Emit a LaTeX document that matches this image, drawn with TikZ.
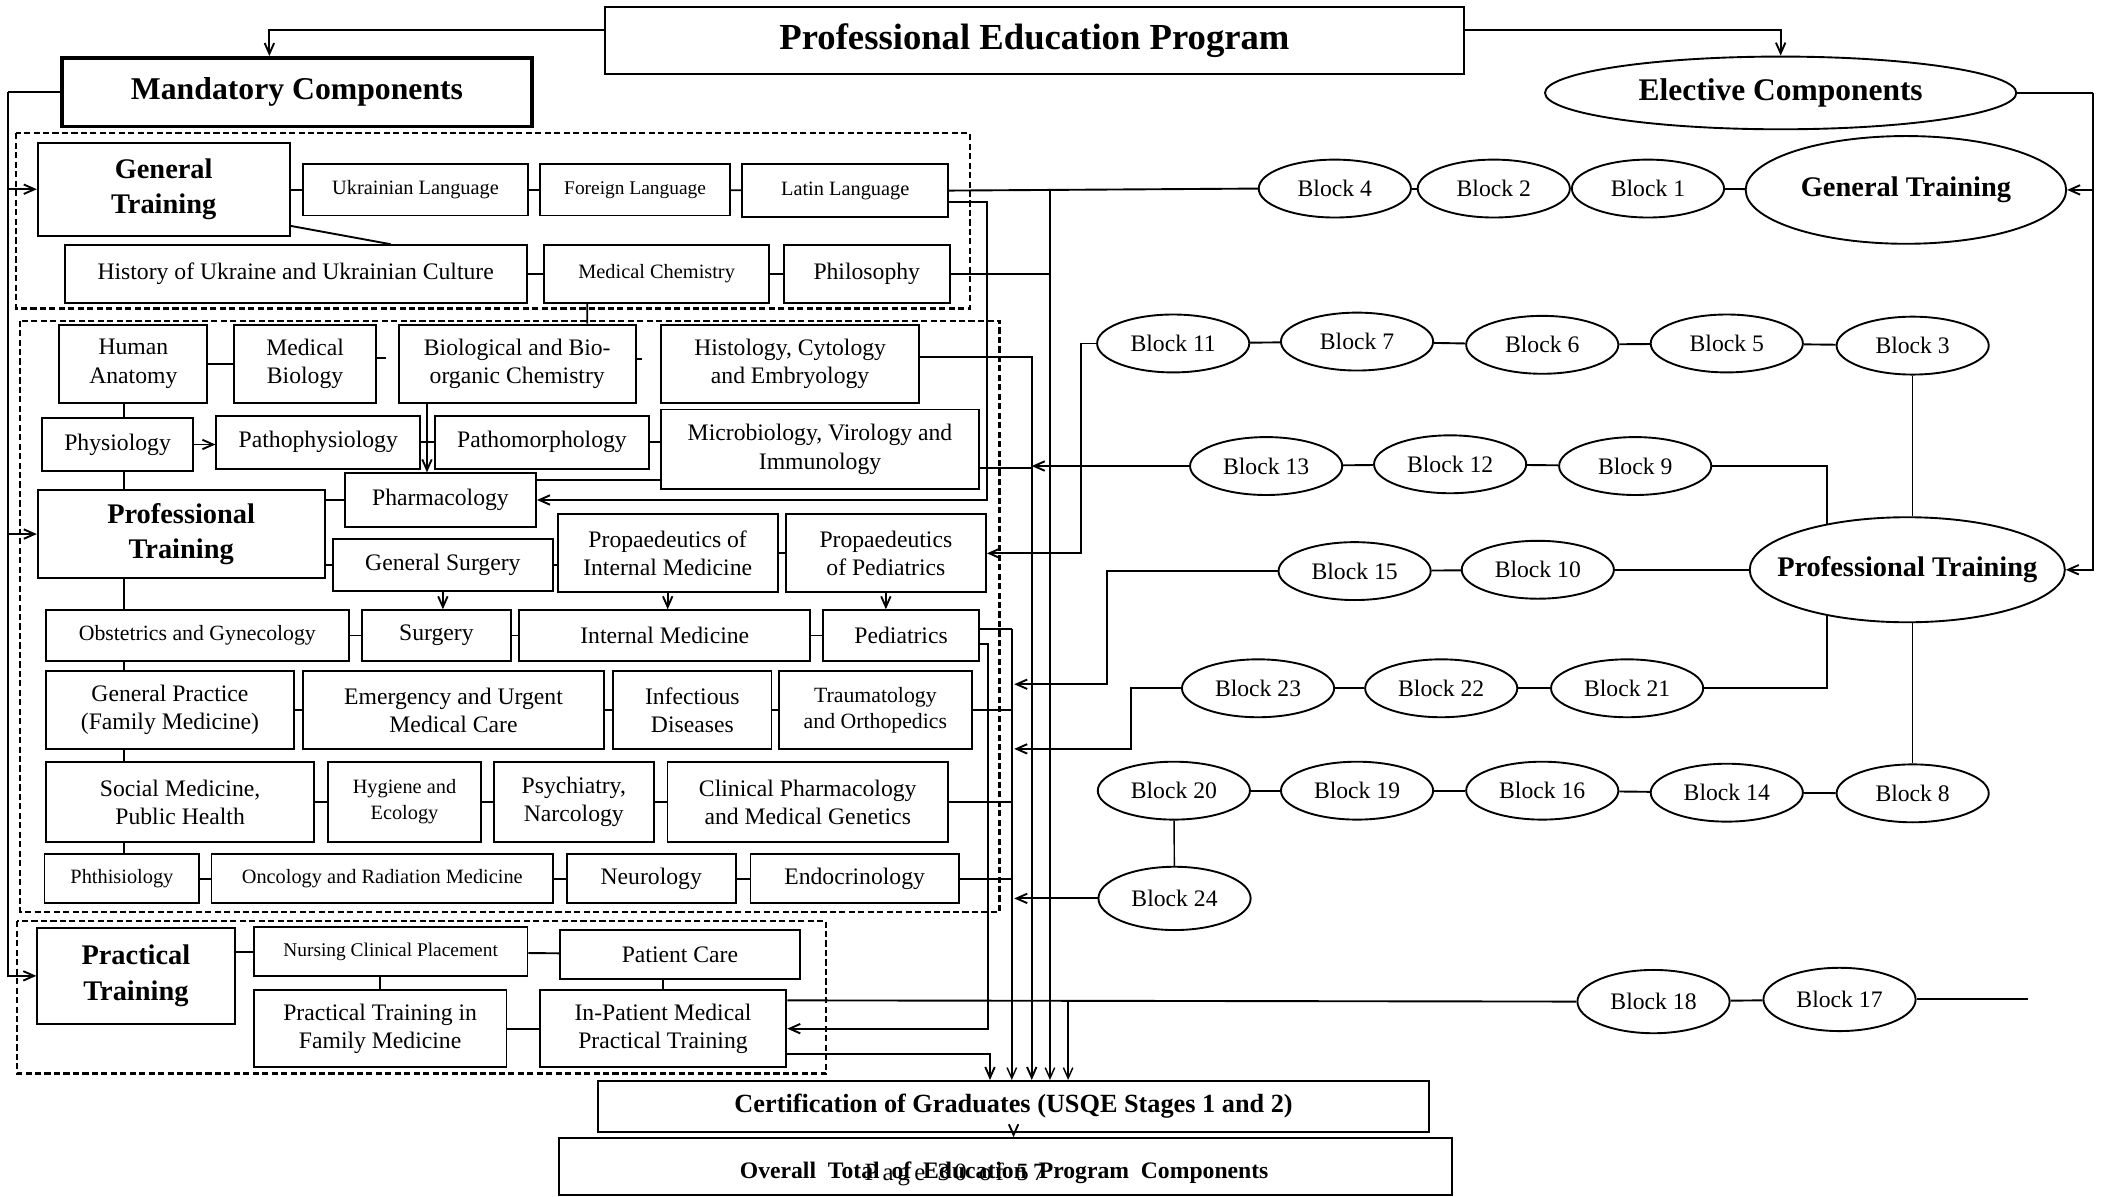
\documentclass[tikz,border=0pt]{standalone}
\usepackage{fontspec}
\setmainfont{Liberation Serif}
\usetikzlibrary{shapes.geometric,arrows.meta}

\tikzset{
  box/.style 2 args={draw, line width=0.8pt, minimum width=#1*0.2mm, minimum height=#2*0.2mm,
    inner sep=1pt, align=center, font=\fontsize{10}{12}\selectfont},
  sbox/.style 2 args={box={#1}{#2}, font=\fontsize{8.6}{11}\selectfont},
  hbox/.style 2 args={box={#1}{#2}, font=\bfseries\fontsize{12}{15}\selectfont},
  blk/.style={draw, ellipse, line width=0.8pt, minimum width=113*0.2mm, minimum height=43*0.2mm,
    inner sep=0pt, font=\fontsize{10}{12}\selectfont},
  bigell/.style 2 args={blk, minimum width=#1*0.2mm, minimum height=#2*0.2mm, font=\bfseries\fontsize{12}{14}\selectfont},
  grp/.style={draw, line width=0.9pt, dash pattern=on 2.6pt off 1.4pt},
  ln/.style={line width=0.8pt},
  bus/.style={line width=0.6pt},
  arr/.style={-{Straight Barb[length=4.5pt,width=4pt]}},
}

\begin{document}
\begin{tikzpicture}[x=0.02cm, y=-0.02cm]
\useasboundingbox (0,0) rectangle (1568,888);

% head of the program
\node[box={638}{50}, font=\bfseries\fontsize{15.5}{18}\selectfont] (pep) at (768,30) {Professional Education Program};
\node[box={349}{51}, line width=1.6pt, font=\bfseries\fontsize{13.4}{16}\selectfont] (mand) at (220.5,68.5) {Mandatory Components};
\node[bigell={350}{54}, font=\bfseries\fontsize{13.3}{16}\selectfont] (elec) at (1322,69) {Elective Components};

% dashed groups
\draw[grp] (12,99) rectangle (720,229);
\draw[grp] (15,238) rectangle (742,677);
\draw[grp] (12.5,684) rectangle (613.5,797);

% general training
\node[hbox={187}{69}] (gt) at (121.5,140.5) {General\\Training};
\node[sbox={167}{38}] (ukr) at (308.5,141) {Ukrainian Language};
\node[sbox={141}{38}, font=\fontsize{8.2}{10}\selectfont] (fl) at (471.5,141) {Foreign Language};
\node[sbox={153}{39}] (lat) at (627.5,141.5) {Latin Language};
\node[box={343}{43}] (hist) at (219.5,203.5) {History of Ukraine and Ukrainian Culture};
\node[sbox={167}{43}] (mchem) at (487.5,203.5) {Medical Chemistry};
\node[box={123}{43}] (phil) at (643.5,203.5) {Philosophy};

% professional training
\node[box={110}{58}] (ha) at (99,270) {Human\\Anatomy};
\node[box={105}{58}] (mbio) at (226.5,270) {Medical\\Biology};
\node[box={176}{58}] (bio) at (384,270) {Biological and Bio-\\organic Chemistry};
\node[box={192}{58}] (histo) at (586.6,270) {Histology, Cytology\\and Embryology};
\node[box={112.6}{39}] (phys) at (87.3,330) {Physiology};
\node[box={151.4}{39}] (pphys) at (236.3,328.4) {Pathophysiology};
\node[box={159.2}{39}] (pmorph) at (402.4,328.4) {Pathomorphology};
\node[box={236.5}{59}] (micro) at (608.8,333.5) {Microbiology, Virology and\\Immunology};
\node[box={142}{39.6}] (pharm) at (327,371.2) {Pharmacology};
\node[hbox={213}{65}] (pt) at (134.5,396.5) {Professional\\Training};
\node[box={163.6}{38.8}] (gsurg) at (328.8,419.4) {General Surgery};
\node[box={163.3}{58}] (pim) at (495.7,410.8) {Propaedeutics of\\Internal Medicine};
\node[box={148.7}{58}] (ppd) at (657.7,410.8) {Propaedeutics\\of Pediatrics};
\node[box={225}{37.5}, font=\fontsize{9.2}{11}\selectfont] (obst) at (146.5,471.8) {Obstetrics and Gynecology};
\node[box={111}{37.5}] (surg) at (324,471.8) {Surgery};
\node[box={216}{37.5}] (im) at (493.5,471.8) {Internal Medicine};
\node[box={116}{37.5}] (ped) at (669,471.8) {Pediatrics};
\node[box={184.4}{58.3}] (gp) at (126.2,527.2) {General Practice\\(Family Medicine)};
\node[box={223.3}{58.3}] (emer) at (336.7,527.2) {Emergency and Urgent\\Medical Care};
\node[box={117.5}{58.3}] (inf) at (514,527.2) {Infectious\\Diseases};
\node[box={143}{58.3}, font=\fontsize{9.2}{11}\selectfont] (trau) at (649.9,527.2) {Traumatology\\and Orthopedics};
\node[box={199.4}{59}] (soc) at (133.7,595.5) {Social Medicine,\\Public Health};
\node[sbox={113.5}{59}] (hyg) at (300.3,595.5) {Hygiene and\\Ecology};
\node[box={119}{59}] (psy) at (426,595.5) {Psychiatry,\\Narcology};
\node[box={208.3}{59}] (cph) at (599.7,595.5) {Clinical Pharmacology\\and Medical Genetics};
\node[sbox={115}{36.6}] (phth) at (90.5,652.3) {Phthisiology};
\node[sbox={253.6}{36.6}] (onc) at (283.8,652.3) {Oncology and Radiation Medicine};
\node[box={125.5}{36.6}] (neur) at (483.5,652.3) {Neurology};
\node[box={154.6}{36.6}] (endo) at (634.5,652.3) {Endocrinology};

% practical training
\node[hbox={146.6}{71.5}] (prt) at (100.9,724.5) {Practical\\Training};
\node[sbox={203.3}{36.4}, font=\fontsize{8.2}{10}\selectfont] (ncp) at (290,706.6) {Nursing Clinical Placement};
\node[box={178.2}{36.4}] (pc) at (504.8,708.6) {Patient Care};
\node[box={187.7}{57.4}] (ptfm) at (282.2,763.7) {Practical Training in\\Family Medicine};
\node[box={183.2}{57.4}] (ipt) at (492.2,763.7) {In-Patient Medical\\Practical Training};

% certification
\node[box={617}{38}, font=\bfseries\fontsize{11.1}{13}\selectfont] (cert) at (752.5,821.5) {Certification of Graduates (USQE Stages 1 and 2)};
\node[box={663}{42}] (total) at (746.5,866) {};
\node[font=\bfseries\fontsize{10}{12}\selectfont] (tottxt) at (745.5,871) {Overall\ \ Total\ \ of\ \ Education\ \ Program\ \ Components};
\node[font=\fontsize{10.5}{12}\selectfont] (pgno) at (709,872) {P\,a\,g\,e\ \ 3\,0\ \ o\,f\ \ 5\,7};

% elective blocks
\node[blk] (b4) at (991,140) {Block 4};
\node[blk] (b2) at (1109,140) {Block 2};
\node[blk] (b1) at (1223.5,140) {Block 1};
\node[bigell={238}{80}] (gte) at (1415,141) {\makebox[0pt]{General Training}};
\node[blk] (b11) at (871,255) {Block 11};
\node[blk] (b7) at (1007.5,253.6) {Block 7};
\node[blk] (b6) at (1145,256) {Block 6};
\node[blk] (b5) at (1282,255) {Block 5};
\node[blk] (b3) at (1420,256.6) {Block 3};
\node[blk] (b13) at (940,346) {Block 13};
\node[blk] (b12) at (1076.6,344.7) {Block 12};
\node[blk] (b9) at (1214,346) {Block 9};
\node[blk] (b15) at (1005.7,424) {Block 15};
\node[blk] (b10) at (1141.7,423) {Block 10};
\node[bigell={234}{78}] (pte) at (1416,423) {\makebox[0pt]{Professional Training}};
\node[blk] (b23) at (934,511) {Block 23};
\node[blk] (b22) at (1070,511) {Block 22};
\node[blk] (b21) at (1208,511) {Block 21};
\node[blk] (b20) at (871.5,587) {Block 20};
\node[blk] (b19) at (1007.5,587) {Block 19};
\node[blk] (b16) at (1145,587) {Block 16};
\node[blk] (b14) at (1282,588.5) {Block 14};
\node[blk] (b8) at (1420,589) {Block 8};
\node[blk, minimum height=47*0.2mm] (b24) at (872,667) {Block 24};
\node[blk, minimum height=47*0.2mm] (b18) at (1227.6,743.6) {Block 18};
\node[blk, minimum height=47*0.2mm] (b17) at (1365.7,742) {Block 17};

% x of the lines running down to the certification
\coordinate (busA) at (735,0);
\coordinate (busC) at (766,0);
\coordinate (busD) at (779.5,0);
\coordinate (busE) at (793,0);
\coordinate (busP) at (733,0);
\coordinate (lc) at (92,0);
\coordinate (in15) at (753,508);
\coordinate (in23) at (753,556);
\coordinate (in24) at (753,667);
\coordinate (tail) at (1505.6,742);

% top connectors
\draw[ln,arr] ([yshift=0.16cm]pep.west) -| ([xshift=-0.41cm]mand.north);
\draw[ln,arr] ([yshift=0.16cm]pep.east) -| (elec.north);
\draw[ln] (elec.east) -- ++(56,0) coordinate (er);
\draw[ln,arr] (er) |- (gte.east);
\draw[ln,arr] (er) |- (pte.east);
\draw[ln] (mand.west) -- ++(-38.5,0) coordinate (ml);
\draw[ln,arr] (ml) |- (gt.west);
\draw[ln,arr] (ml) |- (pt.west);
\draw[ln,arr] (ml) |- (prt.west);

% general training links
\draw[ln] (gt.east |- ukr.west) -- (ukr.west);
\draw[ln] (ukr) -- (fl);
\draw[ln] (fl) -- (lat);
\draw[ln] ([yshift=0.16cm]gt.south east) -- ([xshift=1.41cm]hist.north);
\draw[ln] (hist) -- (mchem);
\draw[ln] (mchem) -- (phil);
\draw[ln] ([xshift=-1.03cm]mchem.south) -- ([xshift=1.04cm]bio.north);
\draw[ln] (lat.east) -- (b4.west);
\draw[bus,arr] (busD |- lat.east) -- (busD |- cert.north);
\draw[ln] (phil.east) -- (busD |- phil.east);
\draw[ln,arr] ([yshift=-0.17cm]lat.east) -| (busP |- pharm.east) -- (pharm.east);

% professional training links
\draw[ln] (lc |- ha.south) -- (lc |- phys.north);
\draw[ln] (lc |- phys.south) -- (lc |- pt.north);
\draw[ln] (lc |- pt.south) -- (lc |- obst.north);
\draw[ln] (lc |- obst.south) -- (lc |- gp.north);
\draw[ln] (lc |- gp.south) -- (lc |- soc.north);
\draw[ln] (lc |- soc.south) -- (lc |- phth.north);
\draw[ln] (ha) -- (mbio);
\draw[ln] ([yshift=0.09cm]mbio.east) -- ++(7,0);
\draw[ln] ([yshift=0.07cm]bio.east) -- ++(4,0);
\draw[ln,arr] ([xshift=-1.34cm]bio.south) -- ([xshift=-0.2cm]pharm.north);
\draw[ln,arr] (phys.east) -- (phys.east -| pphys.west);
\draw[ln] (pphys) -- (pmorph);
\draw[ln] (pmorph.east) -- (pmorph.east -| micro.west);
\draw[ln] ([yshift=0.3cm]pharm.east) -- ++(92.5,0);
\draw[ln] (pt.east |- pharm.west) -- (pharm.west);
\draw[ln] (pt.east |- gsurg.west) -- (gsurg.west);
\draw[ln] (gsurg.east) -- (gsurg.east -| pim.west);
\draw[ln] (pim) -- (ppd);
\draw[ln,arr] (gsurg.south) -- (gsurg.south |- surg.north);
\draw[ln,arr] (pim.south) -- (pim.south |- im.north);
\draw[ln,arr] (ppd.south) -- (ppd.south |- ped.north);
\draw[ln] (obst) -- (surg);
\draw[ln] (surg) -- (im);
\draw[ln] (im) -- (ped);
\draw[ln] (gp) -- (emer);
\draw[ln] (emer) -- (inf);
\draw[ln] (inf) -- (trau);
\draw[ln] (soc) -- (hyg);
\draw[ln] (hyg) -- (psy);
\draw[ln] (psy) -- (cph);
\draw[ln] (phth) -- (onc);
\draw[ln] (onc) -- (neur);
\draw[ln] (neur) -- (endo);
\draw[ln,arr] ([yshift=0.1cm]histo.east) -| (busC |- cert.north);
\draw[ln] ([yshift=-0.28cm]micro.east) -- ++(39,0);
\draw[ln,arr] (b13.west) -- (busC |- b13.west);
\draw[ln,arr] (b11.west) -- ++(-11,0) |- (ppd.east);
\draw[ln] ([yshift=0.09cm]ped.east) -- ++(23.5,0) coordinate (busB);
\draw[bus,arr] (busB) -- (busB |- cert.north);
\draw[ln,arr] ([yshift=-0.12cm]ped.east) -- ++(6,0) |- (ipt.east);
\draw[ln] (trau.east) -- (busB |- trau.east);
\draw[ln] (cph.east) -- (busB |- cph.east);
\draw[ln] (endo.east) -- (busB |- endo.east);
\draw[ln,arr] (b15.west) -- ++(-126.5,0) |- (in15);
\draw[ln,arr] (b23.west) -- ++(-37,0) |- (in23);
\draw[ln,arr] (b24.west) -- (in24);

% practical training links
\draw[ln] (prt.east |- ncp.west) -- (ncp.west);
\draw[ln] (ncp) -- (pc);
\draw[ln] (ptfm.north) -- (ptfm.north |- ncp.south);
\draw[ln] (ipt.north) -- (ipt.north |- pc.south);
\draw[ln] (ptfm) -- (ipt);
\draw[ln,arr] ([yshift=-0.37cm]ipt.east) -| (busA |- cert.north);
\draw[ln] ([yshift=0.42cm]ipt.east) -- (b18.west);
\draw[bus,arr] (busE |- b18.west) -- (busE |- cert.north);
\draw[ln,arr] (cert.south) -- (cert.south |- total.north);

% elective chains
\draw[ln] (b4) -- (b2);
\draw[ln] (b2) -- (b1);
\draw[ln] (b1) -- (gte);
\draw[ln] (b11) -- (b7);
\draw[ln] (b7) -- (b6);
\draw[ln] (b6) -- (b5);
\draw[ln] (b5) -- (b3);
\draw[bus] (b3.south) -- (b3.south |- pte.north);
\draw[ln] (b13) -- (b12);
\draw[ln] (b12) -- (b9);
\draw[ln] (b9.east) -| (pte.150);
\draw[ln] (b15) -- (b10);
\draw[ln] (b10) -- (pte);
\draw[ln] (b23) -- (b22);
\draw[ln] (b22) -- (b21);
\draw[ln] (b21.east) -| (pte.210);
\draw[ln] (b20) -- (b19);
\draw[ln] (b19) -- (b16);
\draw[ln] (b16) -- (b14);
\draw[ln] (b14) -- (b8);
\draw[bus] (b8.north) -- (b8.north |- pte.south);
\draw[bus] (b20) -- (b24);
\draw[ln] (b18) -- (b17);
\draw[ln] (b17.east) -- (tail);
\end{tikzpicture}
\end{document}
